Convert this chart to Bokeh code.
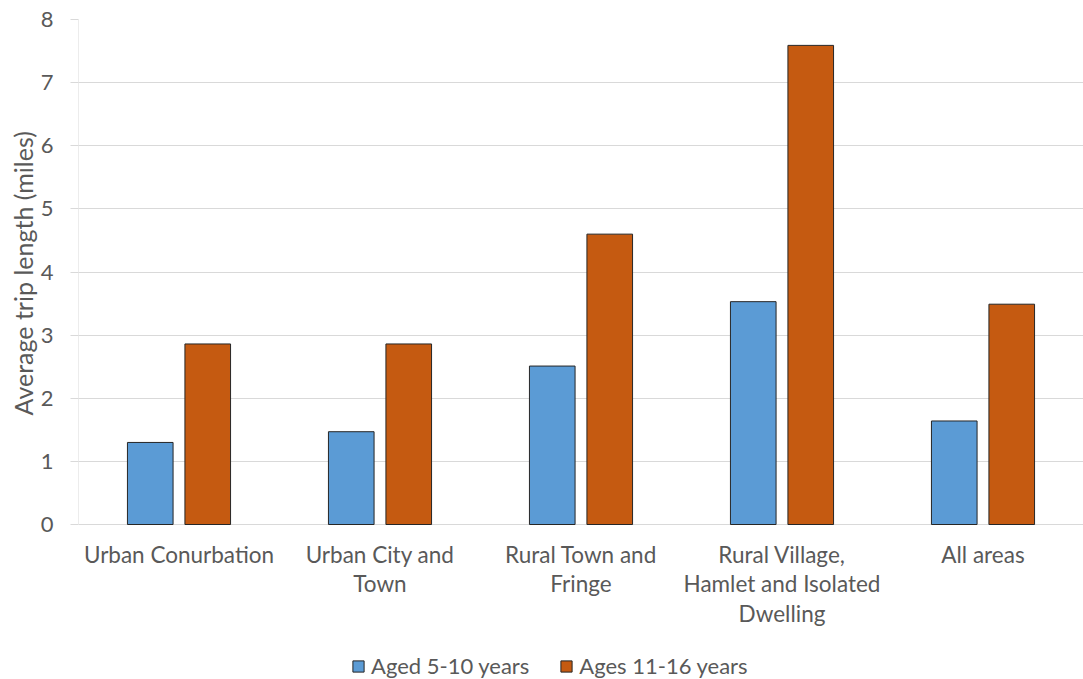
import math
from bokeh.plotting import figure
from bokeh.models import (FactorRange, Range1d, FixedTicker, ColumnDataSource, Legend,
                          LegendItem, Title)
from bokeh.transform import dodge
from bokeh.core.properties import value
from bokeh.embed import file_html
from bokeh.resources import INLINE

categories = ["Urban Conurbation", "Urban City and Town", "Rural Town and Fringe",
              "Rural Village, Hamlet and Isolated Dwelling", "All areas"]
category_labels = ["Urban Conurbation", "Urban City and\nTown", "Rural Town and\nFringe",
                   "Rural Village,\nHamlet and Isolated\nDwelling", "All areas"]
aged_5_10 = [1.30, 1.47, 2.51, 3.53, 1.64]
ages_11_16 = [2.86, 2.86, 4.60, 7.59, 3.49]
y_ticks = [0, 1, 2, 3, 4, 5, 6, 7, 8]
y_max = 8

FONT = "Lato"
TXT = "#595959"
GRID = "#D9D9D9"

# layout constants (pixels)
W, H = 1083, 679
LEFT = 78
TOP = 19
ZERO_Y = 524            # pixel row of value 0 inside the figure
px_per_unit = (ZERO_Y - TOP) / y_max
y_bottom = -(H - ZERO_Y) / px_per_unit
TITLE_BOTTOM_Y = 415

src = ColumnDataSource(dict(cat=categories, a=aged_5_10, b=ages_11_16, lab=category_labels,
                            zero=[0] * len(categories)))

p = figure(width=W, height=H, x_range=FactorRange(factors=categories, range_padding=0),
           y_range=Range1d(y_bottom, y_max), output_backend="svg", toolbar_location=None,
           min_border_left=LEFT, min_border_right=0, min_border_top=TOP, min_border_bottom=0)
p.outline_line_color = None
p.xaxis.visible = False

r1 = p.vbar(x=dodge("cat", -0.143, range=p.x_range), top="a", width=0.227, source=src,
            fill_color="#5B9BD5", line_color="#262626", line_width=1)
r2 = p.vbar(x=dodge("cat", 0.143, range=p.x_range), top="b", width=0.227, source=src,
            fill_color="#C55A11", line_color="#262626", line_width=1)

# category labels under the baseline
p.text(x="cat", y="zero", text="lab", source=src, y_offset=16,
       text_font=value(FONT), text_font_size="22.5px", text_color=TXT,
       text_align="center", text_baseline="top", text_line_height=1.1)

# vertical axis line from 0 to max
axsrc = ColumnDataSource(dict(c=[categories[0]], y0=[0], y1=[y_max]))
p.segment(x0=dodge("c", -0.5, range=p.x_range), x1=dodge("c", -0.5, range=p.x_range),
          y0="y0", y1="y1", source=axsrc, line_color=GRID, line_width=1)

p.xgrid.grid_line_color = None
p.ygrid.grid_line_color = GRID
p.ygrid.grid_line_width = 1
p.ygrid.ticker = FixedTicker(ticks=y_ticks)

p.yaxis.ticker = FixedTicker(ticks=y_ticks)
p.yaxis.axis_line_color = None
p.yaxis.major_tick_line_color = GRID
p.yaxis.major_tick_out = 8
p.yaxis.major_tick_in = 0
p.yaxis.minor_tick_line_color = None
p.yaxis.major_label_standoff = 17
p.yaxis.major_label_text_font = FONT
p.yaxis.major_label_text_font_size = "22px"
p.yaxis.major_label_text_color = TXT

title = Title(text="Average trip length (miles)", align="left",
              offset=H - TITLE_BOTTOM_Y,
              text_font=FONT, text_font_size="25px", text_font_style="normal",
              text_color=TXT, standoff=0)
p.add_layout(title, "left")

legend = Legend(items=[LegendItem(label="Aged 5-10 years", renderers=[r1]),
                       LegendItem(label="Ages 11-16 years", renderers=[r2])],
                orientation="horizontal", location=(273, 0),
                label_text_font=FONT, label_text_font_size="22px", label_text_color=TXT,
                glyph_width=14, glyph_height=14, label_standoff=6, spacing=30,
                border_line_color=None, background_fill_alpha=0, padding=0, margin=0)
p.add_layout(legend, "center")

open("out.html", "w").write(file_html(p, INLINE))
